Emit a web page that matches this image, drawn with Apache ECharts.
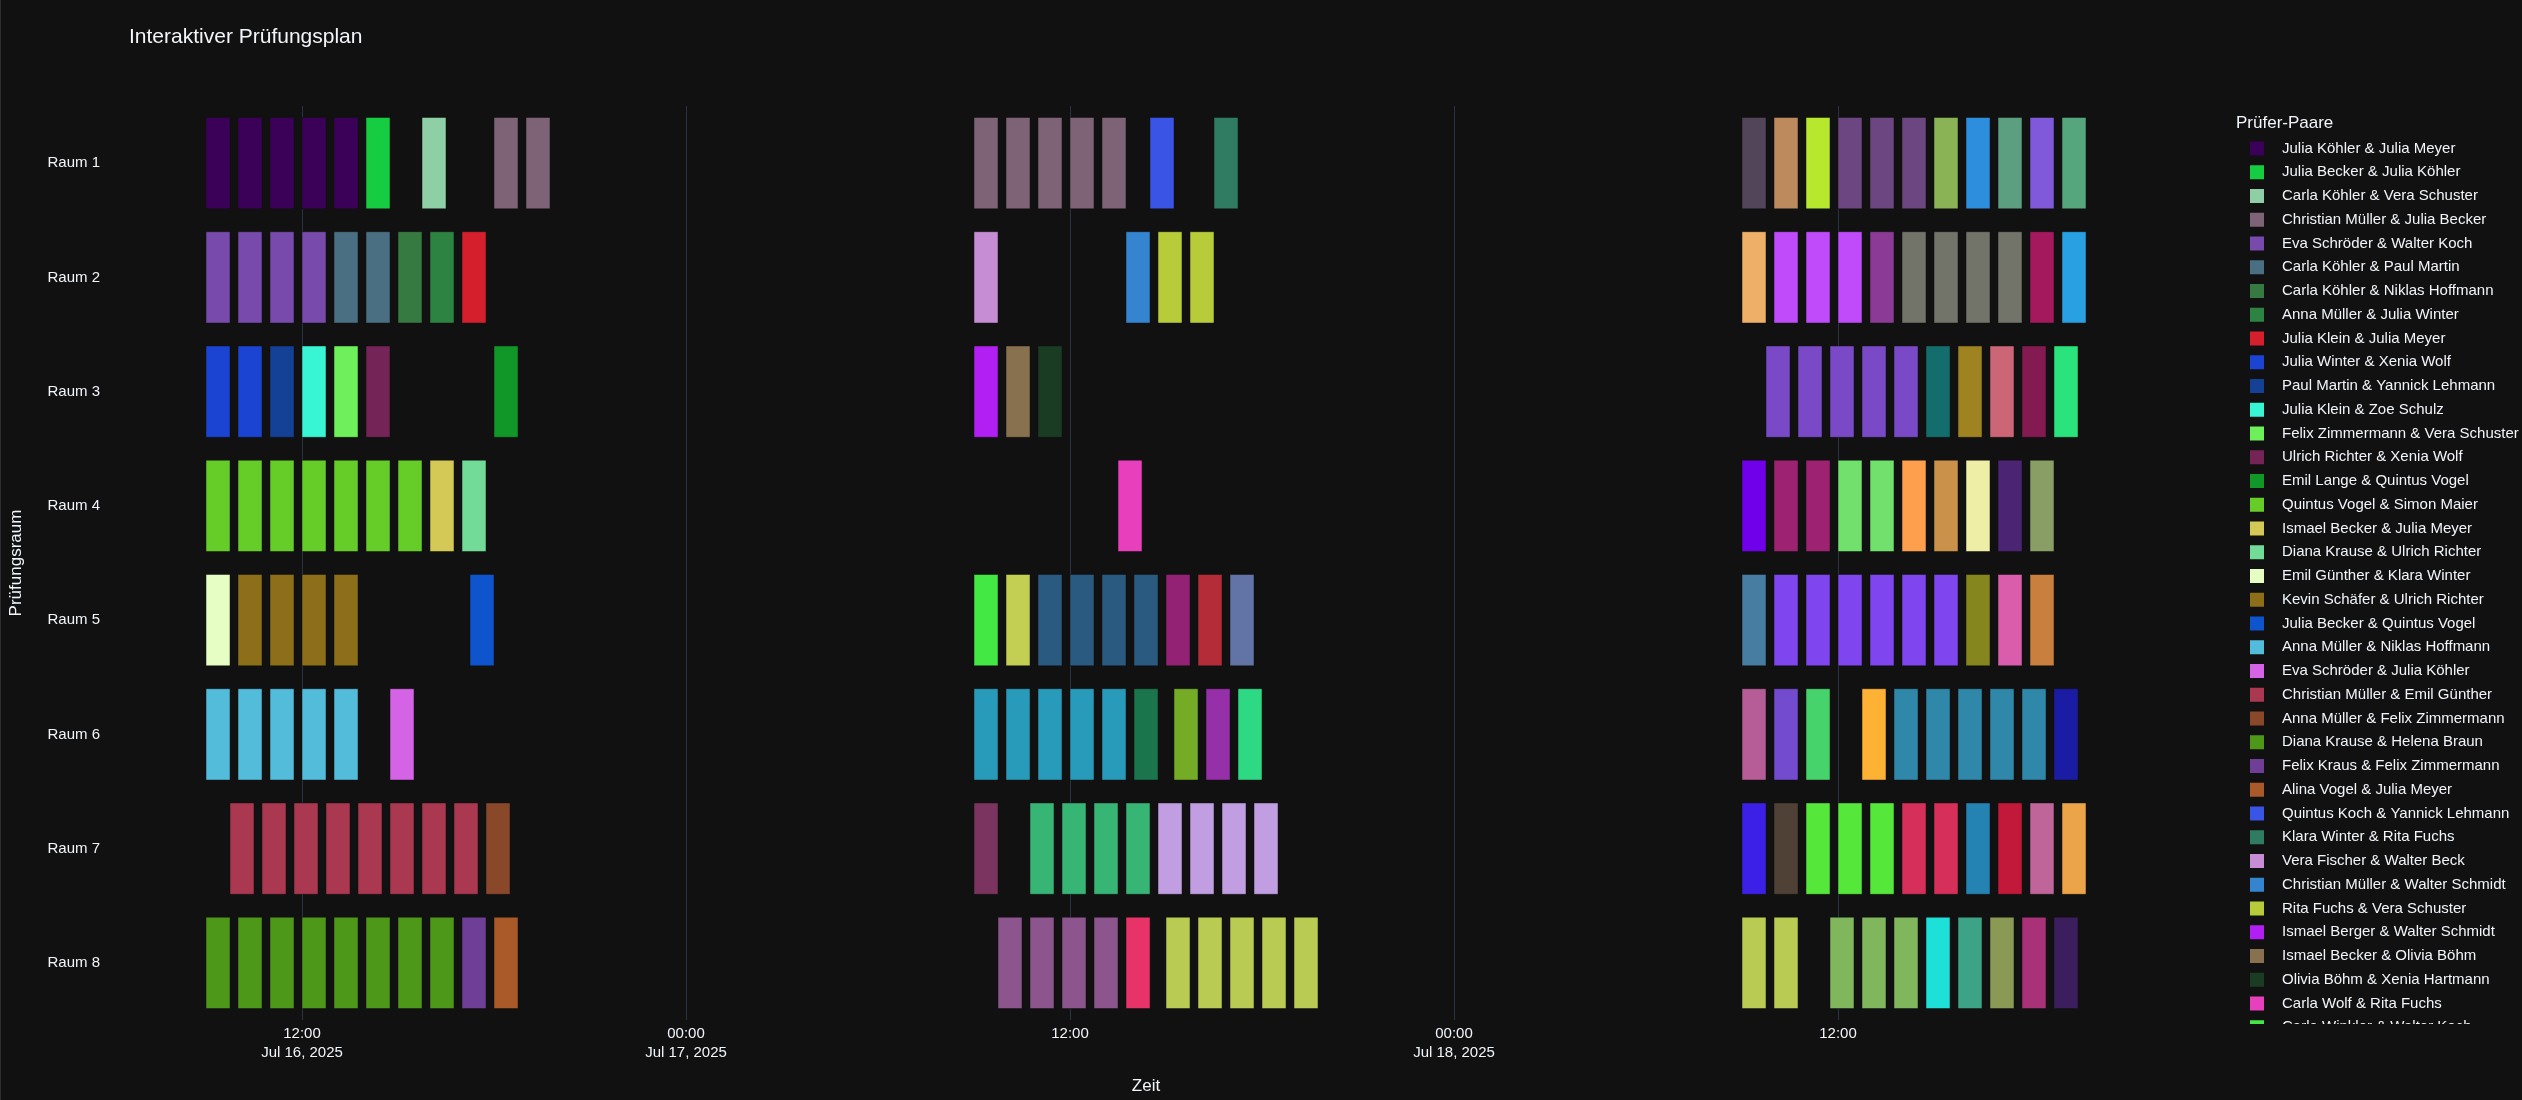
<!DOCTYPE html>
<html>
<head>
<meta charset="utf-8">
<script src="https://cdn.jsdelivr.net/npm/echarts@6/dist/echarts.min.js"></script>
<style>
html,body{margin:0;padding:0;background:#111111;}
#chart{width:2522px;height:1100px;}
</style>
</head>
<body>
<div id="chart"></div>
<script>
// ---------- DATA ----------
const rooms = ['Raum 1','Raum 2','Raum 3','Raum 4','Raum 5','Raum 6','Raum 7','Raum 8'];
const examDays = ['2025-07-16','2025-07-17','2025-07-18'];
const examMinutes = 45;
const tickTimes = ['2025-07-16T12:00:00','2025-07-17T00:00:00','2025-07-17T12:00:00','2025-07-18T00:00:00','2025-07-18T12:00:00'];

const pairNames = [
  'Julia Köhler & Julia Meyer','Julia Becker & Julia Köhler','Carla Köhler & Vera Schuster','Christian Müller & Julia Becker',
  'Eva Schröder & Walter Koch','Carla Köhler & Paul Martin','Carla Köhler & Niklas Hoffmann','Anna Müller & Julia Winter',
  'Julia Klein & Julia Meyer','Julia Winter & Xenia Wolf','Paul Martin & Yannick Lehmann','Julia Klein & Zoe Schulz',
  'Felix Zimmermann & Vera Schuster','Ulrich Richter & Xenia Wolf','Emil Lange & Quintus Vogel','Quintus Vogel & Simon Maier',
  'Ismael Becker & Julia Meyer','Diana Krause & Ulrich Richter','Emil Günther & Klara Winter','Kevin Schäfer & Ulrich Richter',
  'Julia Becker & Quintus Vogel','Anna Müller & Niklas Hoffmann','Eva Schröder & Julia Köhler','Christian Müller & Emil Günther',
  'Anna Müller & Felix Zimmermann','Diana Krause & Helena Braun','Felix Kraus & Felix Zimmermann','Alina Vogel & Julia Meyer',
  'Quintus Koch & Yannick Lehmann','Klara Winter & Rita Fuchs','Vera Fischer & Walter Beck','Christian Müller & Walter Schmidt',
  'Rita Fuchs & Vera Schuster','Ismael Berger & Walter Schmidt','Ismael Becker & Olivia Böhm','Olivia Böhm & Xenia Hartmann',
  'Carla Wolf & Rita Fuchs','Carla Winkler & Walter Koch'
];
const totalPairs = 108;

// per day: one list per room, items = [start time, pair index]
const day16 = [
  [['09:00',0],['10:00',0],['11:00',0],['12:00',0],['13:00',0],['14:00',1],['15:45',2],['18:00',3],['19:00',3]],
  [['09:00',4],['10:00',4],['11:00',4],['12:00',4],['13:00',5],['14:00',5],['15:00',6],['16:00',7],['17:00',8]],
  [['09:00',9],['10:00',9],['11:00',10],['12:00',11],['13:00',12],['14:00',13],['18:00',14]],
  [['09:00',15],['10:00',15],['11:00',15],['12:00',15],['13:00',15],['14:00',15],['15:00',15],['16:00',16],['17:00',17]],
  [['09:00',18],['10:00',19],['11:00',19],['12:00',19],['13:00',19],['17:15',20]],
  [['09:00',21],['10:00',21],['11:00',21],['12:00',21],['13:00',21],['14:45',22]],
  [['09:45',23],['10:45',23],['11:45',23],['12:45',23],['13:45',23],['14:45',23],['15:45',23],['16:45',23],['17:45',24]],
  [['09:00',25],['10:00',25],['11:00',25],['12:00',25],['13:00',25],['14:00',25],['15:00',25],['16:00',25],['17:00',26],['18:00',27]]
];
const day17 = [
  [['09:00',3],['10:00',3],['11:00',3],['12:00',3],['13:00',3],['14:30',28],['16:30',29]],
  [['09:00',30],['13:45',31],['14:45',32],['15:45',32]],
  [['09:00',33],['10:00',34],['11:00',35]],
  [['13:30',36]],
  [['09:00',37],['10:00',38],['11:00',39],['12:00',39],['13:00',39],['14:00',39],['15:00',40],['16:00',41],['17:00',42]],
  [['09:00',43],['10:00',43],['11:00',43],['12:00',43],['13:00',43],['14:00',44],['15:15',45],['16:15',46],['17:15',47]],
  [['09:00',48],['10:45',49],['11:45',49],['12:45',49],['13:45',49],['14:45',50],['15:45',50],['16:45',50],['17:45',50]],
  [['09:45',51],['10:45',51],['11:45',51],['12:45',51],['13:45',52],['15:00',53],['16:00',53],['17:00',53],['18:00',53],['19:00',53]]
];
const day18 = [
  [['09:00',54],['10:00',55],['11:00',56],['12:00',57],['13:00',57],['14:00',57],['15:00',58],['16:00',59],['17:00',60],['18:00',61],['19:00',62]],
  [['09:00',63],['10:00',64],['11:00',64],['12:00',64],['13:00',65],['14:00',66],['15:00',66],['16:00',66],['17:00',66],['18:00',67],['19:00',68]],
  [['09:45',69],['10:45',69],['11:45',69],['12:45',69],['13:45',69],['14:45',70],['15:45',71],['16:45',72],['17:45',73],['18:45',74]],
  [['09:00',75],['10:00',76],['11:00',76],['12:00',77],['13:00',77],['14:00',78],['15:00',79],['16:00',80],['17:00',81],['18:00',82]],
  [['09:00',83],['10:00',84],['11:00',84],['12:00',84],['13:00',84],['14:00',84],['15:00',84],['16:00',85],['17:00',86],['18:00',87]],
  [['09:00',88],['10:00',89],['11:00',90],['12:45',91],['13:45',92],['14:45',92],['15:45',92],['16:45',92],['17:45',92],['18:45',93]],
  [['09:00',94],['10:00',95],['11:00',96],['12:00',96],['13:00',96],['14:00',97],['15:00',97],['16:00',98],['17:00',99],['18:00',100],['19:00',101]],
  [['09:00',53],['10:00',53],['11:45',102],['12:45',102],['13:45',102],['14:45',103],['15:45',104],['16:45',105],['17:45',106],['18:45',107]]
];
const schedule = [day16, day17, day18];

// ---------- STYLE ----------
const pairColors = [
  '#3b0058','#16cc40','#8ecfa5','#7e6275','#774aab','#4a6f83','#377a41','#2d8341','#d61f2d','#1a44d1',
  '#144096','#38f5d3','#6ef05a','#742456','#119628','#66cd28','#d4c957','#72db98','#e6fec4','#8c6f18',
  '#0e54cc','#53bcda','#d563e6','#a93850','#8a482b','#4e9819','#6f3f98','#a95a28','#3a55e5','#2f7c62',
  '#c68dd5','#3484d0','#b8cc3a','#b21ff2','#87714f','#1a3c23','#e83fbd','#44e844','#c3cf52','#2b5a80',
  '#932274','#b42c38','#6274a6','#299bba','#1a744c','#74ad25','#9530a8','#2ed983','#7a345f','#37b574',
  '#c19ee2','#8d558e','#e83368','#b9cb52','#524459','#bd8a5e','#b8e82e','#6c4680','#8ab356','#2e8ede',
  '#5c9e80','#7f59d9','#55a67d','#eeb069','#c04bfa','#8b3a96','#727469','#a4185e','#28a0e2','#7a49c7',
  '#146d6d','#a08321','#cc6677','#831a52','#2ae37d','#7000ea','#9e2272','#72e06c','#fd9f4d','#ca914b',
  '#eeeea6','#4b2573','#889e64','#467da0','#7f45ee','#86861f','#da5dac','#c97f3d','#b65c97','#734bcf',
  '#47d36b','#fdb233','#2f88aa','#1a1da4','#3c20e8','#4f4135','#55e83a','#d52f5a','#2583b3','#c2193a',
  '#bf6599','#eca449','#80b65c','#1de0d8','#3da386','#8a9a55','#a83178','#3c1e5e'
];
const FONT = '"Liberation Sans", Arial, sans-serif';
const TXT = '#f2f5fa';

// ---------- BUILD ----------
const names = [];
for (let i = 0; i < totalPairs; i++) names.push(i < pairNames.length ? pairNames[i] : 'Paar ' + (i + 1));
const perPair = names.map(() => []);
let tMin = Infinity, tMax = -Infinity;
schedule.forEach((day, d) => {
  day.forEach((list, r) => {
    list.forEach(([t, p]) => {
      const s = new Date(examDays[d] + 'T' + t + ':00').getTime();
      const e = s + examMinutes * 60000;
      perPair[p].push([r, s, e]);
      tMin = Math.min(tMin, s); tMax = Math.max(tMax, e);
    });
  });
});
const pad = (tMax - tMin) * 0.05;
const ticks = tickTimes.map(t => new Date(t).getTime());
const MONTHS = ['Jan','Feb','Mar','Apr','May','Jun','Jul','Aug','Sep','Oct','Nov','Dec'];
const two = n => (n < 10 ? '0' : '') + n;

function renderItem(params, api) {
  const r = api.value(0);
  const s = api.coord([api.value(1), r]);
  const e = api.coord([api.value(2), r]);
  const h = api.size([0, 1])[1] * 0.8;
  return {
    type: 'rect',
    shape: { x: s[0], y: s[1] - h / 2, width: e[0] - s[0], height: h },
    style: { fill: api.visual('color'), stroke: '#111111', lineWidth: 0.5 }
  };
}

const series = names.map((n, i) => ({
  type: 'custom',
  name: n,
  renderItem: renderItem,
  itemStyle: { color: pairColors[i] },
  encode: { x: [1, 2], y: 0 },
  data: perPair[i]
}));

const chart = echarts.init(document.getElementById('chart'), null, { renderer: 'canvas' });
chart.setOption({
  backgroundColor: '#111111',
  animation: false,
  textStyle: { fontFamily: FONT },
  title: {
    text: 'Interaktiver Prüfungsplan',
    left: 129, top: 27, padding: 0,
    textStyle: { color: TXT, fontSize: 21, fontWeight: 'normal', fontFamily: FONT }
  },
  grid: { left: 112, right: 342, top: 106, bottom: 77, containLabel: false },
  xAxis: {
    type: 'value',
    min: tMin - pad, max: tMax + pad,
    scale: true,
    name: 'Zeit', nameLocation: 'middle', nameGap: 58,
    nameTextStyle: { color: TXT, fontSize: 17, fontFamily: FONT },
    axisLine: { show: false },
    axisTick: { show: false, customValues: ticks },
    splitLine: { show: true, lineStyle: { color: '#283442', width: 1 } },
    axisLabel: {
      customValues: ticks,
      showMinLabel: true, showMaxLabel: true,
      color: TXT, fontSize: 15, fontFamily: FONT, lineHeight: 19, margin: 4,
      hideOverlap: false,
      formatter: v => {
        const d = new Date(v);
        const time = two(d.getHours()) + ':' + two(d.getMinutes());
        const showDate = (v === ticks[0]) || (d.getHours() === 0 && d.getMinutes() === 0);
        return showDate ? time + '\n' + MONTHS[d.getMonth()] + ' ' + d.getDate() + ', ' + d.getFullYear() : time;
      }
    }
  },
  yAxis: {
    type: 'category',
    data: rooms,
    inverse: true,
    name: 'Prüfungsraum', nameLocation: 'middle', nameGap: 87, nameRotate: 90,
    nameTextStyle: { color: TXT, fontSize: 17, fontFamily: FONT },
    axisLine: { show: false },
    axisTick: { show: false },
    splitLine: { show: false },
    axisLabel: { color: TXT, fontSize: 15, fontFamily: FONT, margin: 12 }
  },
  legend: {
    type: 'plain',
    orient: 'vertical',
    left: 2250, top: 141, bottom: 0,
    padding: 0,
    icon: 'rect',
    itemWidth: 14, itemHeight: 14, itemGap: 8.75,
    data: pairNames,
    textStyle: { color: TXT, fontSize: 15, fontFamily: FONT, lineHeight: 15, padding: [0, 0, 0, 13] }
  },
  graphic: [
    { type: 'text', left: 2236, top: 115, z: 100,
      style: { text: 'Prüfer-Paare', fill: TXT, font: '17px ' + FONT } },
    { type: 'rect', left: 2200, top: 1024, z: 100, silent: true,
      shape: { width: 322, height: 76 }, style: { fill: '#111111' } },
    { type: 'rect', left: 0, top: 0, z: 100, silent: true,
      shape: { width: 1, height: 1100 }, style: { fill: '#2c2c2c' } }
  ],
  series: series
});
</script>
</body>
</html>
